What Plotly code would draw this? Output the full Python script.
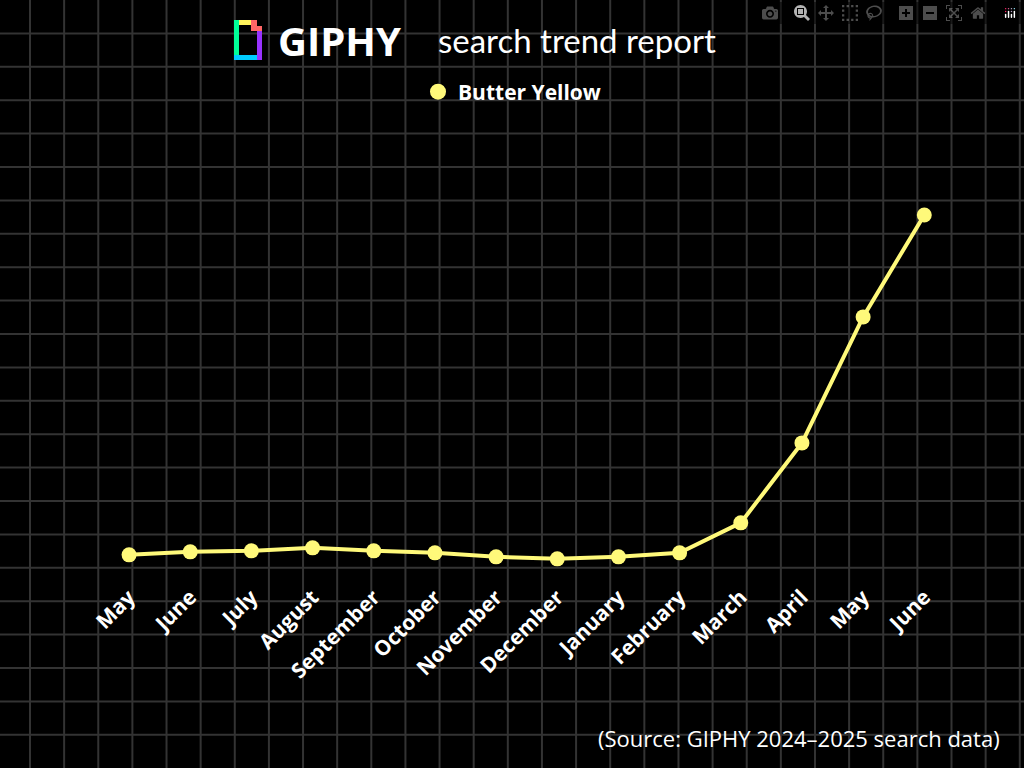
import plotly.graph_objects as go

months = ["May", "June", "July", "August", "September", "October", "November",
          "December", "January", "February", "March", "April", "May", "June"]
interest = [45, 48, 49, 52, 49, 47, 43, 41, 43, 47, 77, 157, 283, 385]
idx = list(range(len(months)))

YELLOW = "#FFF97A"
FONT = "Open Sans, Lato, sans-serif"

fig = go.Figure()
fig.add_trace(go.Scatter(
    x=idx, y=interest, mode="lines+markers", showlegend=False,
    line=dict(color=YELLOW, width=4),
    marker=dict(color=YELLOW, size=15),
))
# legend entry: marker only
fig.add_trace(go.Scatter(x=[None], y=[None], mode="markers", name="<b>Butter Yellow</b>",
                         marker=dict(color=YELLOW, size=22)))

fig.update_layout(
    width=1024, height=768,
    margin=dict(l=0, r=0, t=0, b=0),
    paper_bgcolor="black", plot_bgcolor="rgba(0,0,0,0)",
    font=dict(family=FONT, color="white"),
    xaxis=dict(domain=[0, 1], range=[-2.11, 14.63], tickmode="array",
               tickvals=idx, ticktext=[f"<b>{m}</b>" for m in months],
               tickangle=-45, tickfont=dict(size=21, color="white", family=FONT),
               showgrid=False, zeroline=False, showline=False, ticks="", ticklen=0),
    yaxis=dict(domain=[0.245, 1], range=[20, 600], visible=False),
    legend=dict(x=0.5, xanchor="center", y=1 - 92 / 768, yanchor="middle", orientation="h",
                font=dict(size=21, color="white", family=FONT), bgcolor="rgba(0,0,0,0)",
                itemsizing="trace"),
)

# background grid
x = 30.0
while x < 1024:
    fig.add_shape(type="line", xref="paper", yref="paper", x0=x / 1024, x1=x / 1024, y0=0, y1=1,
                  line=dict(color="#333333", width=2), layer="below")
    x += 34.13
y = 33.4
while y < 768:
    fig.add_shape(type="line", xref="paper", yref="paper", y0=1 - y / 768, y1=1 - y / 768, x0=0, x1=1,
                  line=dict(color="#333333", width=2), layer="below")
    y += 33.4

fig.add_annotation(text="<b>GIPHY</b>", x=276 / 1024, y=1 - 40 / 768, xref="paper", yref="paper",
                   xanchor="left", yanchor="middle", showarrow=False,
                   font=dict(size=40, color="white", family=FONT))
fig.add_annotation(text="search trend report", x=436 / 1024, y=1 - 40 / 768, xref="paper", yref="paper",
                   xanchor="left", yanchor="middle", showarrow=False,
                   font=dict(size=33, color="white", family="Lato, sans-serif"))
fig.add_annotation(text="(Source: GIPHY 2024–2025 search data)", x=1002 / 1024, y=1 - 738 / 768,
                   xref="paper", yref="paper", xanchor="right", yanchor="middle", showarrow=False,
                   font=dict(size=22, color="white", family=FONT))

# GIPHY logo built from small blocks
def px(x0, y0, x1, y1, color):
    fig.add_shape(type="rect", xref="paper", yref="paper", line_width=0, fillcolor=color,
                  x0=x0 / 1024, x1=x1 / 1024, y0=1 - y1 / 768, y1=1 - y0 / 768)

px(234, 20, 239, 60, "#00FF99")
px(234, 55, 262, 60, "#00CCFF")
px(257, 31, 262, 60, "#9933FF")
px(239, 20, 251, 25, "#FFF35C")
px(251, 20, 257, 26, "#FF6666")
px(251, 26, 262, 31, "#FF6666")

fig.write_html("out.html", post_script="document.body.style.margin='0';document.body.style.background='black';")
